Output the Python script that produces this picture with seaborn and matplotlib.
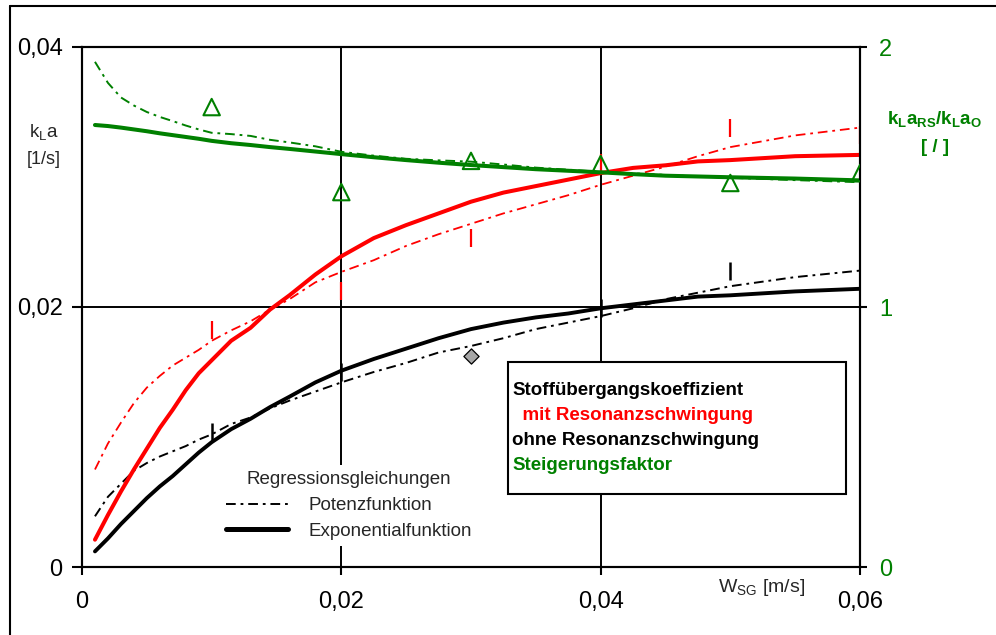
import matplotlib
matplotlib.use("Agg")
import matplotlib.pyplot as plt
import seaborn as sns
from matplotlib.lines import Line2D
from matplotlib.patches import Rectangle

# ---------------- data ----------------
wsg = [0.001, 0.002, 0.003, 0.004, 0.005, 0.006, 0.007, 0.008, 0.009, 0.010,
       0.0115, 0.013, 0.0145, 0.016, 0.018, 0.020, 0.0225, 0.025, 0.0275, 0.030,
       0.0325, 0.035, 0.0375, 0.040, 0.0425, 0.045, 0.0475, 0.050, 0.055, 0.060]

# kLa with resonance oscillation [1/s]
kla_rs_exp = [0.0021, 0.0040, 0.0058, 0.0075, 0.0091, 0.0107, 0.0121, 0.0136, 0.0149, 0.0159,
              0.0174, 0.0184, 0.0198, 0.0209, 0.0225, 0.0239, 0.0253, 0.0263, 0.0272, 0.0281,
              0.0288, 0.0293, 0.0298, 0.0303, 0.0307, 0.0309, 0.0312, 0.0313, 0.0316, 0.0317]
kla_rs_pow = [0.0075, 0.0095, 0.0111, 0.0126, 0.0138, 0.0147, 0.0155, 0.0161, 0.0167, 0.0174,
              0.0182, 0.0189, 0.0198, 0.0206, 0.0219, 0.0227, 0.0236, 0.0247, 0.0256, 0.0264,
              0.0272, 0.0279, 0.0286, 0.0294, 0.0301, 0.0308, 0.0316, 0.0323, 0.0332, 0.0338]

# kLa without resonance oscillation [1/s]
kla_o_exp = [0.0012, 0.0022, 0.0033, 0.0043, 0.0053, 0.0062, 0.0070, 0.0079, 0.0088, 0.0096,
             0.0106, 0.0114, 0.0123, 0.0131, 0.0142, 0.0151, 0.0160, 0.0168, 0.0176, 0.0183,
             0.0188, 0.0192, 0.0195, 0.0199, 0.0202, 0.0205, 0.0208, 0.0209, 0.0212, 0.0214]
kla_o_pow = [0.0039, 0.0054, 0.0064, 0.0074, 0.0080, 0.0085, 0.0089, 0.0093, 0.0098, 0.0102,
             0.0110, 0.0115, 0.0122, 0.0128, 0.0135, 0.0142, 0.0150, 0.0157, 0.0165, 0.0170,
             0.0176, 0.0183, 0.0188, 0.0193, 0.0199, 0.0206, 0.0211, 0.0216, 0.0223, 0.0228]

# enhancement factor kLa_RS / kLa_O [-]
factor_exp = [1.700, 1.696, 1.690, 1.683, 1.676, 1.668, 1.661, 1.654, 1.647, 1.639,
              1.630, 1.623, 1.615, 1.608, 1.598, 1.588, 1.576, 1.565, 1.555, 1.546,
              1.538, 1.530, 1.524, 1.518, 1.511, 1.505, 1.502, 1.499, 1.494, 1.487]
factor_pow = [1.943, 1.862, 1.806, 1.775, 1.750, 1.731, 1.715, 1.698, 1.683, 1.670,
              1.665, 1.658, 1.643, 1.633, 1.618, 1.597, 1.582, 1.570, 1.564, 1.559,
              1.548, 1.536, 1.528, 1.520, 1.514, 1.508, 1.502, 1.497, 1.488, 1.480]

# measured points
wsg_meas = [0.01, 0.02, 0.03, 0.04, 0.05, 0.06]
kla_rs_meas = [0.0182, 0.0212, 0.0253, 0.0311, 0.0338, 0.0332]
wsg_o_meas = [0.01, 0.02, 0.04, 0.05, 0.06]
kla_o_meas = [0.0104, 0.0150, 0.0199, 0.0228, 0.0213]
wsg_o_extra = [0.03]
kla_o_extra = [0.0162]
factor_meas = [1.769, 1.442, 1.562, 1.550, 1.477, 1.515]

x_ticks = [0.0, 0.02, 0.04, 0.06]
x_tick_labels = ["0", "0,02", "0,04", "0,06"]
y_ticks = [0.0, 0.02, 0.04]
y_tick_labels = ["0", "0,02", "0,04"]
y2_ticks = [0, 1, 2]
y2_tick_labels = ["0", "1", "2"]

legend_title = "Stoffübergangskoeffizient"
legend_rows = ["  mit Resonanzschwingung", "ohne Resonanzschwingung", "Steigerungsfaktor"]

# ---------------- style ----------------
sns.set_style("ticks")
plt.rcParams["font.family"] = ["Liberation Sans", "DejaVu Sans"]
plt.rcParams["mathtext.fontset"] = "custom"
plt.rcParams["mathtext.rm"] = "Liberation Sans"
plt.rcParams["mathtext.bf"] = "Liberation Sans:bold"
plt.rcParams["mathtext.it"] = "Liberation Sans:italic"
plt.rcParams["lines.scale_dashes"] = False

RED = "#ff0000"
GREEN = "#008000"
BLACK = "#000000"
DASHDOT = (0, (7, 3.5, 2, 3.5))

fig = plt.figure(figsize=(9.96, 6.35), dpi=100)
ax = fig.add_axes([82 / 996, 68 / 635, 778 / 996, 520 / 635])
ax2 = ax.twinx()

# ---------------- kLa curves ----------------
sns.lineplot(x=wsg, y=kla_o_pow, ax=ax, color=BLACK, linewidth=1.4, linestyle=DASHDOT,
             estimator=None, sort=False)
sns.lineplot(x=wsg, y=kla_o_exp, ax=ax, color=BLACK, linewidth=2.8,
             estimator=None, sort=False)
sns.lineplot(x=wsg, y=kla_rs_pow, ax=ax, color=RED, linewidth=1.3, linestyle=DASHDOT,
             estimator=None, sort=False)
sns.lineplot(x=wsg, y=kla_rs_exp, ax=ax, color=RED, linewidth=2.9,
             estimator=None, sort=False)

sns.scatterplot(x=wsg_meas, y=kla_rs_meas, ax=ax, marker="|", s=150, color=RED,
                linewidth=1.6, zorder=4)
sns.scatterplot(x=wsg_o_meas, y=kla_o_meas, ax=ax, marker="|", s=150, color=BLACK,
                linewidth=1.8, zorder=4)
sns.scatterplot(x=wsg_o_extra, y=kla_o_extra, ax=ax, marker="D", s=60, color="#a6a6a6",
                edgecolor=BLACK, linewidth=0.9, zorder=4)

# ---------------- factor curves ----------------
sns.lineplot(x=wsg, y=factor_pow, ax=ax2, color=GREEN, linewidth=1.4, linestyle=DASHDOT,
             estimator=None, sort=False)
sns.lineplot(x=wsg, y=factor_exp, ax=ax2, color=GREEN, linewidth=2.9,
             estimator=None, sort=False)
sns.scatterplot(x=wsg_meas, y=factor_meas, ax=ax2, marker="^", s=140, color=GREEN,
                facecolor="none", edgecolor=GREEN, linewidth=1.5, zorder=5)

# ---------------- axes ----------------
ax.set_xlim(0, 0.06)
ax.set_ylim(0, 0.04)
ax2.set_ylim(0, 2)
ax.set_xticks(x_ticks)
ax.set_xticklabels(x_tick_labels)
ax.set_yticks(y_ticks)
ax.set_yticklabels(y_tick_labels)
ax2.set_yticks(y2_ticks)
ax2.set_yticklabels(y2_tick_labels)
ax.set_xlabel("")
ax.set_ylabel("")
ax2.set_ylabel("")

ax.grid(True, color=BLACK, linewidth=1.4)
ax.set_axisbelow(True)
for a in (ax, ax2):
    for sp in a.spines.values():
        sp.set_visible(True)
        sp.set_color(BLACK)
        sp.set_linewidth(1.5)

ax.tick_params(axis="x", direction="out", length=6, width=1.5, pad=11,
               labelsize=17, colors=BLACK)
ax.tick_params(axis="y", direction="out", length=7, width=1.5, pad=7,
               labelsize=17, colors=BLACK)
ax2.tick_params(axis="y", direction="out", length=5, width=1.5, pad=8.5,
                labelsize=17, color=BLACK, labelcolor=GREEN)

# axis titles
fig.text(44 / 996, 1 - 132 / 635, r"k$_{\mathregular{L}}$a", fontsize=13.5,
         ha="center", va="center")
fig.text(44 / 996, 1 - 160 / 635, "[1/s]", fontsize=13, ha="center", va="center")
fig.text(935 / 996, 1 - 119 / 635, r"$\mathbf{k_{L}a_{RS}/k_{L}a_{O}}$", fontsize=13.5,
         color=GREEN, ha="center", va="center")
fig.text(935 / 996, 1 - 148 / 635, "[ / ]", fontsize=13.5, fontweight="bold",
         color=GREEN, ha="center", va="center")
ax.text((762 - 82) / 778, -21 / 520, r"W$_{\mathregular{SG}}$ [m/s]", fontsize=14,
        transform=ax.transAxes, ha="center", va="center")

# ---------------- legend box ----------------
box = Rectangle((0.548, 0.140), 0.434, 0.254, transform=ax2.transAxes,
                facecolor="white", edgecolor=BLACK, linewidth=1.5, zorder=10)
ax2.add_patch(box)
ax2.text(0.553, 0.340, legend_title, transform=ax2.transAxes, fontsize=13.5,
         fontweight="bold", color=BLACK, va="center", ha="left", zorder=11)
for i, (row, col) in enumerate(zip(legend_rows, [RED, BLACK, GREEN])):
    ax2.text(0.553, 0.340 - (i + 1) * 0.048, row, transform=ax2.transAxes,
             fontsize=13.5, fontweight="bold", color=col, va="center", ha="left",
             zorder=11)

# regression-type legend
handles = [Line2D([], [], color=BLACK, linewidth=1.4, linestyle=DASHDOT),
           Line2D([], [], color=BLACK, linewidth=3.6)]
leg = ax2.legend(handles, ["Potenzfunktion", "Exponentialfunktion"],
                 title="Regressionsgleichungen", loc="center",
                 bbox_to_anchor=(0.343, 0.118), bbox_transform=ax2.transAxes,
                 fontsize=13.5, title_fontsize=13.5, frameon=True,
                 facecolor="white", edgecolor="none", framealpha=1.0,
                 handlelength=3.3, handletextpad=1.1, labelspacing=0.46,
                 borderpad=0.35, fancybox=False)
leg.set_zorder(12)

# outer frame (top and left edges)
fig.add_artist(Line2D([10 / 996, 1.0], [1 - 6 / 635, 1 - 6 / 635],
                      transform=fig.transFigure, color=BLACK, linewidth=1.5))
fig.add_artist(Line2D([10 / 996, 10 / 996], [0.0, 1 - 6 / 635],
                      transform=fig.transFigure, color=BLACK, linewidth=1.5))

fig.savefig("out.png", dpi=100)
